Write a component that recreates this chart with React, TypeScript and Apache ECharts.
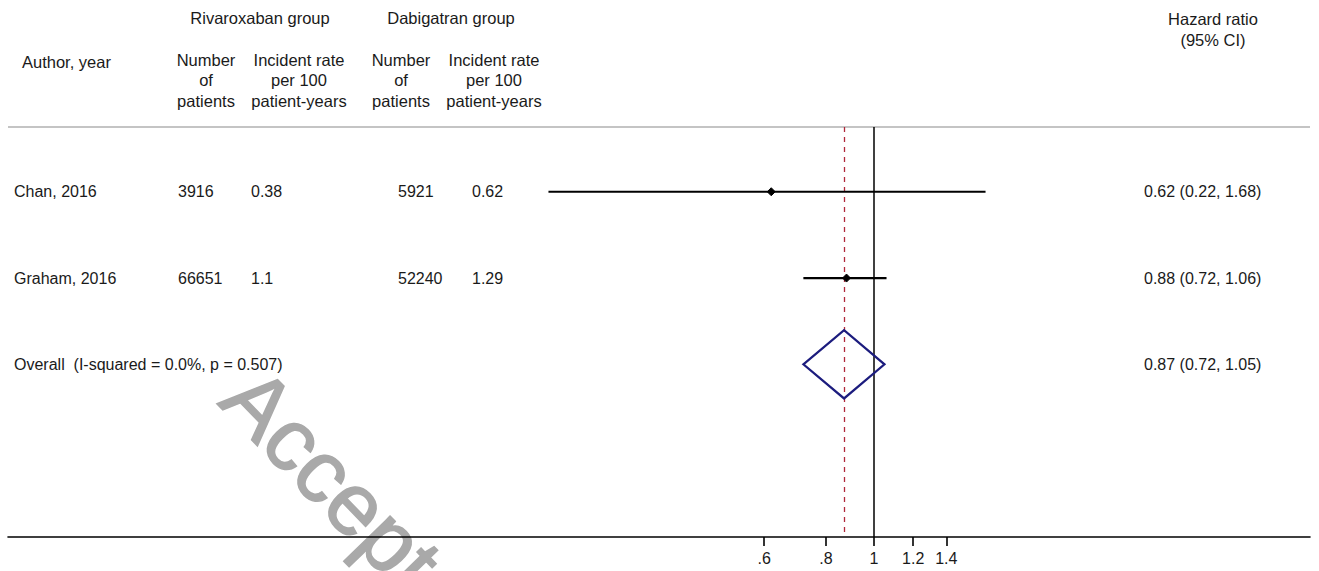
import React, { useEffect, useRef } from "react";
import * as echarts from "echarts";

const studies = ["Chan, 2016", "Graham, 2016"];
const rivaN = ["3916", "66651"];
const rivaRate = ["0.38", "1.1"];
const dabiN = ["5921", "52240"];
const dabiRate = ["0.62", "1.29"];
const hr = [0.62, 0.88];
const lo = [0.22, 0.72];
const hi = [1.68, 1.06];
const overallLabel = "Overall  (I-squared = 0.0%, p = 0.507)";
const overallHR = 0.87;
const overallLo = 0.72;
const overallHi = 1.05;
const tickValues = [0.6, 0.8, 1, 1.2, 1.4];
const tickLabels = [".6", ".8", "1", "1.2", "1.4"];

const FONT = '"Liberation Sans", Arial, Helvetica, sans-serif';
const FS = 16;
const fmt = (v: number) => v.toFixed(2);

export default function App() {
  const ref = useRef<HTMLDivElement>(null);
  useEffect(() => {
    if (!ref.current) return;
    const chart = echarts.init(ref.current, null, { renderer: "svg" });

    const left = 8;
    const right = 1310;
    const zeroPx = 874;
    const pxPerUnit = 215;
    const xMin = -(zeroPx - left) / pxPerUnit;
    const xMax = (right - zeroPx) / pxPerUnit;

    const txt = (x: number, y: number, text: string, align = "left", extra: any = {}) => ({
      type: "text",
      x,
      y,
      style: {
        text,
        fill: "#1a1a1a",
        fontSize: FS,
        fontFamily: FONT,
        align,
        verticalAlign: "middle",
        lineHeight: 20.5,
        ...extra,
      },
    });

    const studyData = studies.map((_, i) => [Math.log(lo[i]), Math.log(hi[i]), Math.log(hr[i]), i + 1]);
    const textData = studies.map((_, i) => [0, i + 1, i]);
    const overallRow = studies.length + 1;

    const option: any = {
      animation: false,
      grid: { left, right: 1319 - right, top: 127, bottom: 571 - 537, containLabel: false },
      xAxis: {
        type: "value",
        min: xMin,
        max: xMax,
        z: 10,
        splitLine: { show: false },
        axisLine: { show: true, onZero: false, lineStyle: { color: "#000", width: 1.6 } },
        axisTick: {
          show: true,
          customValues: tickValues.map((v) => Math.log(v)),
          length: 9,
          lineStyle: { color: "#000", width: 1.6 },
        },
        axisLabel: {
          show: true,
          customValues: tickValues.map((v) => Math.log(v)),
          margin: 13,
          color: "#1a1a1a",
          fontSize: FS,
          fontFamily: FONT,
          formatter: (v: number) => {
            let best = 0;
            tickValues.forEach((t, i) => {
              if (Math.abs(Math.log(t) - v) < Math.abs(Math.log(tickValues[best]) - v)) best = i;
            });
            return tickLabels[best];
          },
        },
      },
      yAxis: {
        type: "value",
        inverse: true,
        min: 0.25,
        max: 5.0,
        show: false,
      },
      graphic: [
        {
          type: "text",
          x: 207,
          y: 413,
          z: -10,
          rotation: (-46 * Math.PI) / 180,
          style: {
            text: "Accepted",
            fill: "#a9a9a9",
            stroke: "#a9a9a9",
            lineWidth: 1.5,
            fontSize: 88,
            fontFamily: FONT,
            align: "left",
            verticalAlign: "bottom",
          },
        },
        { type: "line", z: 1, shape: { x1: left, y1: 127, x2: right, y2: 127 }, style: { stroke: "#c4c4c4", lineWidth: 2 } },
        txt(260, 18, "Rivaroxaban group", "center", { fontSize: 16.5 }),
        txt(451, 18, "Dabigatran group", "center", { fontSize: 16.5 }),
        txt(22, 62, "Author, year", "left", { fontSize: 16.5 }),
        txt(206, 80, "Number\nof\npatients", "center", { fontSize: 16.5 }),
        txt(299, 80, "Incident rate\nper 100\npatient-years", "center", { fontSize: 16.5 }),
        txt(401, 80, "Number\nof\npatients", "center", { fontSize: 16.5 }),
        txt(494, 80, "Incident rate\nper 100\npatient-years", "center", { fontSize: 16.5 }),
        txt(1213, 29.5, "Hazard ratio\n(95% CI)", "center", { fontSize: 16.5 }),
      ],
      series: [
        {
          type: "custom",
          name: "studies",
          clip: false,
          z: 5,
          data: studyData,
          renderItem: (params: any, api: any) => {
            const row = api.value(3);
            const p1 = api.coord([api.value(0), row]);
            const p2 = api.coord([api.value(1), row]);
            const pc = api.coord([api.value(2), row]);
            const s = 4;
            return {
              type: "group",
              children: [
                { type: "line", shape: { x1: p1[0], y1: p1[1], x2: p2[0], y2: p2[1] }, style: { stroke: "#000", lineWidth: 2.2 } },
                {
                  type: "polygon",
                  shape: { points: [[pc[0] - s, pc[1]], [pc[0], pc[1] - s], [pc[0] + s, pc[1]], [pc[0], pc[1] + s]] },
                  style: { fill: "#000", stroke: "#000", lineWidth: 1 },
                },
              ],
            };
          },
          markLine: {
            silent: true,
            symbol: "none",
            label: { show: false },
            data: [
              { xAxis: 0, lineStyle: { color: "#000", type: "solid", width: 1.5 } },
              { xAxis: Math.log(overallHR), lineStyle: { color: "#b0283a", type: [5, 5], width: 1.3 } },
            ],
          },
        },
        {
          type: "custom",
          name: "overall",
          clip: false,
          z: 6,
          data: [[Math.log(overallLo), Math.log(overallHi), Math.log(overallHR), overallRow]],
          renderItem: (params: any, api: any) => {
            const row = api.value(3);
            const pl = api.coord([api.value(0), row]);
            const pr = api.coord([api.value(1), row]);
            const pt = api.coord([api.value(2), row - 0.395]);
            const pb = api.coord([api.value(2), row + 0.395]);
            return {
              type: "polygon",
              shape: { points: [pl, pt, pr, pb] },
              style: { fill: "none", stroke: "#1c1c7e", lineWidth: 2.2 },
            };
          },
        },
        {
          type: "custom",
          name: "text",
          clip: false,
          z: 6,
          data: textData,
          renderItem: (params: any, api: any) => {
            const i = api.value(2);
            const y = api.coord([0, api.value(1)])[1];
            return {
              type: "group",
              children: [
                txt(14, y, studies[i]),
                txt(178, y, rivaN[i]),
                txt(251, y, rivaRate[i]),
                txt(398, y, dabiN[i]),
                txt(472, y, dabiRate[i]),
                txt(1144, y, `${fmt(hr[i])} (${fmt(lo[i])}, ${fmt(hi[i])})`),
              ],
            };
          },
        },
        {
          type: "custom",
          name: "overallText",
          clip: false,
          z: 6,
          data: [[0, overallRow]],
          renderItem: (params: any, api: any) => {
            const y = api.coord([0, api.value(1)])[1];
            return {
              type: "group",
              children: [
                txt(14, y, overallLabel),
                txt(1144, y, `${fmt(overallHR)} (${fmt(overallLo)}, ${fmt(overallHi)})`),
              ],
            };
          },
        },
      ],
    };

    chart.setOption(option);
    return () => chart.dispose();
  }, []);

  return <div ref={ref} style={{ width: 1319, height: 571, position: "absolute", left: 0, top: 0, background: "#fff" }} />;
}
